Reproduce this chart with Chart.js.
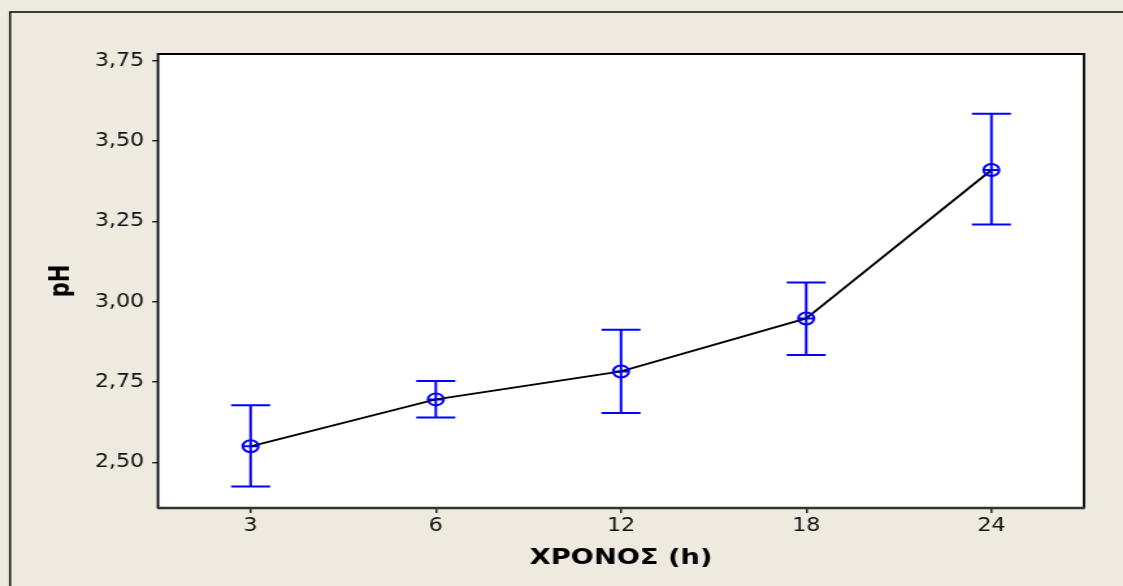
<!DOCTYPE html>
<html>
<head>
<meta charset="utf-8">
<script src="https://cdn.jsdelivr.net/npm/chart.js@4.4.1/dist/chart.umd.min.js"></script>
<style>
  html, body { margin: 0; padding: 0; background: #eeeae0; overflow: hidden; }
  #wrap { width: 1123px; height: 586px; position: relative; }
  /* reference picture is stretched sideways, so the canvas is too */
  #chart { transform: scaleX(1.29977); transform-origin: 0 0; }
</style>
</head>
<body>
<div id="wrap"><canvas id="chart" width="864" height="586"></canvas></div>
<script>
const hours = ['3', '6', '12', '18', '24'];
const phMean = [2.55, 2.696, 2.783, 2.948, 3.41];
const phLow = [2.425, 2.640, 2.654, 2.834, 3.240];
const phHigh = [2.678, 2.753, 2.913, 3.060, 3.585];
const yTicks = [2.5, 2.75, 3.0, 3.25, 3.5, 3.75];

const BLUE = '#0000ff';
const tickFont = { family: '"DejaVu Sans Condensed", "DejaVu Sans", sans-serif', size: 19 };
const titleFont = { family: '"DejaVu Sans", Verdana, sans-serif', size: 21, weight: 'bold' };

// beige page, white plot box and the frames round both
const framePlugin = {
  id: 'frame',
  beforeDraw(chart) {
    const { ctx, chartArea: a } = chart;
    ctx.save();
    ctx.fillStyle = '#eeeae0';
    ctx.fillRect(0, 0, chart.width, chart.height);
    ctx.fillStyle = '#ffffff';
    ctx.fillRect(a.left, a.top, a.right - a.left, a.bottom - a.top);
    ctx.restore();
  },
  afterDraw(chart) {
    const { ctx, chartArea: a } = chart;
    ctx.save();
    ctx.strokeStyle = '#111';
    ctx.lineWidth = 1.6;
    ctx.strokeRect(7.7, 12, 2000, 2000);
    ctx.beginPath();
    ctx.moveTo(a.left, a.bottom);
    ctx.lineTo(a.left, a.top);
    ctx.lineTo(a.right, a.top);
    ctx.lineTo(a.right, a.bottom);
    ctx.strokeStyle = '#000';
    ctx.lineWidth = 1.8;
    ctx.stroke();
    ctx.beginPath();
    ctx.moveTo(a.left - 0.7, a.bottom);
    ctx.lineTo(a.right + 0.7, a.bottom);
    ctx.strokeStyle = '#333';
    ctx.lineWidth = 2.6;
    ctx.stroke();
    ctx.restore();
  }
};

// error bars from phLow / phHigh
const errorBarPlugin = {
  id: 'errorBars',
  afterDatasetsDraw(chart) {
    const { ctx } = chart;
    const xs = chart.scales.x, ys = chart.scales.y;
    const cap = 15;
    ctx.save();
    ctx.strokeStyle = BLUE;
    ctx.lineWidth = 2;
    hours.forEach((h, i) => {
      const x = xs.getPixelForValue(i);
      const yl = ys.getPixelForValue(phLow[i]);
      const yh = ys.getPixelForValue(phHigh[i]);
      ctx.beginPath();
      ctx.moveTo(x, yl); ctx.lineTo(x, yh);
      ctx.moveTo(x - cap, yl); ctx.lineTo(x + cap, yl);
      ctx.moveTo(x - cap, yh); ctx.lineTo(x + cap, yh);
      ctx.stroke();
    });
    ctx.restore();
  }
};

new Chart(document.getElementById('chart'), {
  type: 'line',
  data: {
    labels: hours,
    datasets: [
      {
        data: phMean,
        borderColor: '#000',
        borderWidth: 1.9,
        tension: 0,
        pointStyle: 'circle',
        pointRadius: 6,
        pointBorderColor: BLUE,
        pointBackgroundColor: 'rgba(0,0,0,0)',
        pointBorderWidth: 2
      },
      {
        data: phMean,
        showLine: false,
        pointStyle: 'line',
        pointRadius: 6,
        pointBorderColor: BLUE,
        pointBorderWidth: 2
      }
    ]
  },
  options: {
    responsive: false,
    animation: false,
    events: [],
    layout: { padding: { left: 31.2, right: 30, top: 54, bottom: 11 } },
    plugins: { legend: { display: false }, tooltip: { enabled: false } },
    scales: {
      x: {
        type: 'category',
        offset: true,
        border: { display: false },
        grid: { offset: false, drawOnChartArea: false, drawTicks: true, tickLength: 5, color: '#222', lineWidth: 1.5 },
        ticks: { color: '#111', font: tickFont, padding: 2, maxRotation: 0 },
        title: { display: true, text: 'ΧΡΟΝΟΣ (h)', color: '#000', font: titleFont, padding: { top: 4, bottom: 4 } },
        afterFit(scale) { scale.height = 67; }
      },
      y: {
        min: 2.358,
        max: 3.771,
        border: { display: false },
        grid: { drawOnChartArea: false, drawTicks: true, tickLength: 4.6, color: '#222', lineWidth: 1.4 },
        ticks: {
          color: '#111',
          font: tickFont,
          padding: 6,
          callback: v => v.toFixed(2).replace('.', ',')
        },
        afterBuildTicks(scale) { scale.ticks = yTicks.map(v => ({ value: v })); },
        title: { display: true, text: 'pH', color: '#000', font: titleFont, padding: { top: 4, bottom: 4 } },
        afterFit(scale) { scale.width = 90.36; }
      }
    }
  },
  plugins: [framePlugin, errorBarPlugin]
});
</script>
</body>
</html>
